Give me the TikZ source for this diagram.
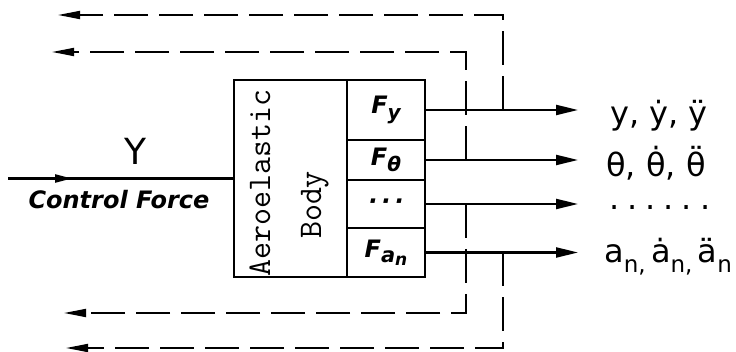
\documentclass[tikz,border=0pt]{standalone}
\usepackage{fontspec}
\newfontfamily\hand{DejaVu Sans}
\usetikzlibrary{arrows.meta,decorations.markings}
\newcommand{\lowered}[3]{\raisebox{#1}{\fontsize{#2}{#2}\selectfont #3}}
\tikzset{
  cellbox/.style={draw, line width=2.5pt, outer sep=0pt, inner sep=0pt, minimum width=78pt, anchor=north west, font=\hand\bfseries\itshape\fontsize{24}{24}\selectfont},
  outline/.style={line width=2.4pt, -{Triangle[length=22pt,width=10pt]}},
  fback/.style={line width=1.8pt, dash pattern=on 34pt off 11pt, -{Triangle[length=22pt,width=8pt]}},
  outlab/.style={anchor=west, inner sep=0pt, font=\hand\fontsize{32}{32}\selectfont},
  bodytext/.style={rotate=90, anchor=base, font=\ttfamily\fontsize{33}{33}\selectfont},
}
\begin{document}
\begin{tikzpicture}[x=1pt, y=-1pt]
\useasboundingbox (0,0) rectangle (736,352);

\node[draw, line width=2.8pt, outer sep=0pt, minimum width=113pt, minimum height=197pt, anchor=north west] (body) at (234,80) {};
\node[bodytext] (aero) at (270,183) {Aeroelastic};
\node[bodytext] (bodyword) at (321,205) {Body};

\node[cellbox, minimum height=60pt] (fy) at (body.north east) {F\lowered{-6pt}{20}{y}};
\node[cellbox, minimum height=40pt] (ft) at (fy.south west) {F\lowered{-6pt}{20}{θ}};
\node[cellbox, minimum height=48pt] (fd) at (ft.south west) {·\,·\,·};
\node[cellbox, minimum height=49pt] (fa) at (fd.south west) {F\lowered{-5pt}{21}{a\lowered{-3pt}{17}{n}}};

\node[outlab] (oy) at (610,116) {y, ẏ, ÿ};
\node[outlab] (ot) at (606,163) {θ, θ̇, θ̈};
\node[outlab] (od) at (609,208) {.\hspace{8pt}.\hspace{8pt}.\hspace{8pt}.\hspace{8pt}.\hspace{8pt}.};
\node[outlab] (oa) at (604,257) {a\lowered{-10pt}{23}{n,}\,ȧ\lowered{-10pt}{23}{n,}\,ä\lowered{-10pt}{23}{n}};

\coordinate (tip) at (578,0);
\foreach \c in {fy,ft,fd,fa}
  \draw[outline] (\c.east) -- (\c.east -| tip);

\coordinate (outer) at (503,0);
\coordinate (inner) at (466,0);
\coordinate (fba) at (58,15);
\coordinate (fbb) at (52,52);
\coordinate (fbc) at (64,313);
\coordinate (fbd) at (66,348);
\draw[fback] (fy.east -| outer) |- (fba);
\draw[fback] (ft.east -| inner) |- (fbb);
\draw[fback] (fd.east -| inner) |- (fbc);
\draw[fback] (fa.east -| outer) |- (fbd);

\coordinate (cin) at (8,178.5);
\draw[line width=2.4pt, postaction={decorate}, decoration={markings, mark=at position 64pt with {\arrow{Triangle[length=17pt,width=8pt]}}}] (cin) -- (body.west);
\node[font=\hand\fontsize{36}{36}\selectfont] (ylab) at (135,151) {Y};
\node[font=\hand\bfseries\itshape\fontsize{24}{24}\selectfont] (cf) at (119,200) {Control Force};
\end{tikzpicture}
\end{document}
